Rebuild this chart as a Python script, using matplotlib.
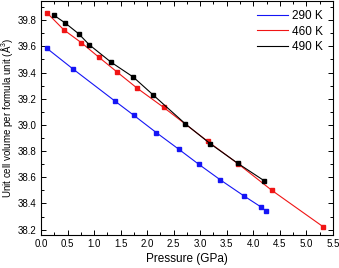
import matplotlib
matplotlib.use("Agg")
import matplotlib.pyplot as plt
from matplotlib.ticker import MultipleLocator

plt.rcParams["font.family"] = ["Liberation Sans", "DejaVu Sans"]
plt.rcParams["mathtext.fontset"] = "custom"
plt.rcParams["mathtext.rm"] = "Liberation Sans"

# pressure (GPa) and volume (A^3) for each temperature
p_290 = [0.11, 0.60, 1.40, 1.75, 2.17, 2.60, 2.97, 3.38, 3.83, 4.15, 4.24]
v_290 = [39.585, 39.428, 39.180, 39.073, 38.942, 38.813, 38.700, 38.580, 38.456, 38.372, 38.342]

p_460 = [0.12, 0.43, 0.76, 1.09, 1.43, 1.81, 2.31, 3.14, 3.71, 4.35, 5.31]
v_460 = [39.853, 39.726, 39.628, 39.517, 39.405, 39.281, 39.134, 38.875, 38.704, 38.500, 38.224]

p_490 = [0.25, 0.46, 0.71, 0.91, 1.32, 1.74, 2.11, 2.72, 3.19, 3.71, 4.20]
v_490 = [39.836, 39.777, 39.696, 39.612, 39.479, 39.365, 39.230, 39.008, 38.856, 38.706, 38.575]

fig = plt.figure(figsize=(3.39, 2.68), dpi=100)
ax = fig.add_axes([0.121, 0.125, 0.861, 0.873])

series = [(p_290, v_290, "#1515f5", "290 K"),
          (p_460, v_460, "#f01515", "460 K"),
          (p_490, v_490, "black", "490 K")]

for p, v, c, lab in series:
    ax.plot(p, v, color=c, lw=0.8, label=lab)
    ax.plot(p, v, "s", color=c, ms=3.3, mec=c)

ax.set_xlim(0, 5.5)
ax.set_ylim(38.163, 39.95)
ax.xaxis.set_major_locator(MultipleLocator(0.5))
ax.xaxis.set_minor_locator(MultipleLocator(0.25))
ax.yaxis.set_major_locator(MultipleLocator(0.2))
ax.yaxis.set_minor_locator(MultipleLocator(0.1))
ax.xaxis.set_major_formatter(plt.FormatStrFormatter("%.1f"))
ax.yaxis.set_major_formatter(plt.FormatStrFormatter("%.1f"))
ax.tick_params(which="both", direction="in", top=True, right=True, labelsize=7, width=0.7)
ax.tick_params(which="major", length=3.5, pad=3)
ax.tick_params(which="minor", length=2)
for s in ax.spines.values():
    s.set_linewidth(0.8)

ax.set_xlabel("Pressure (GPa)", fontsize=8.5, labelpad=3)
ax.set_ylabel("Unit cell volume per formula unit (Å$^3$)", fontsize=7, labelpad=2)

ax.legend(loc="upper right", frameon=False, fontsize=8.5, handlelength=2.6,
          handletextpad=0.4, labelspacing=0.3, borderaxespad=0.4)

fig.savefig("out.png", dpi=100)
